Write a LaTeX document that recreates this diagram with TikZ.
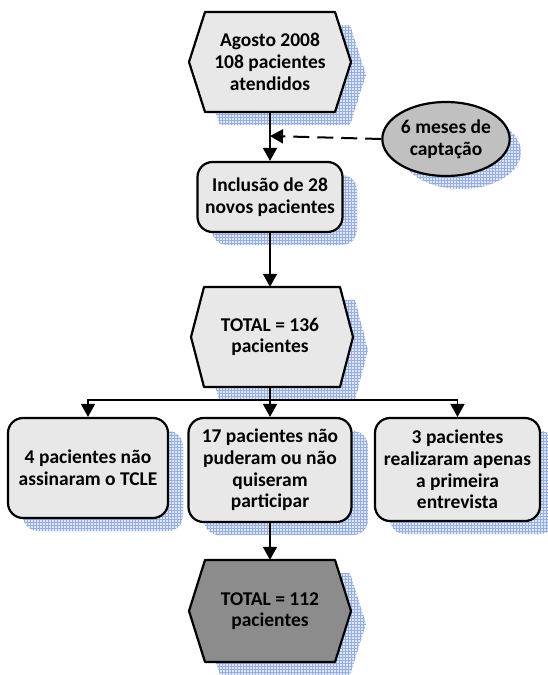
\documentclass[tikz,border=0pt]{standalone}
\usepackage{fontspec}
\setmainfont{Carlito}
\usetikzlibrary{arrows.meta,patterns,shapes.geometric}
\definecolor{boxfill}{RGB}{232,232,232}
\definecolor{ellfill}{RGB}{192,192,192}
\definecolor{darkfill}{RGB}{140,140,140}
\definecolor{shfill}{RGB}{222,230,246}
\definecolor{shline}{RGB}{150,175,222}
\newcommand\hexat[6]{% style, cx, cy, half width, half height, inset
  \path[#1] (#2-#4,#3) -- (#2-#4+#6,#3-#5) -- (#2+#4-#6,#3-#5) -- (#2+#4,#3)
    -- (#2+#4-#6,#3+#5) -- (#2-#4+#6,#3+#5) -- cycle;}
\begin{document}
\begin{tikzpicture}[x=1pt,y=-1pt,
  shad/.style={draw=none, fill=shfill, postaction={pattern=grid, pattern color=shline}},
  shape border/.style={draw=black, line width=2.2pt, line join=round},
  txt/.style={align=center, inner sep=0pt, font=\bfseries\fontsize{19.5}{21.7}\selectfont},
  rbox/.style={txt, shape border, fill=boxfill, rounded corners=15pt},
  ell/.style={txt, ellipse, shape border, fill=ellfill},
  conn/.style={line width=1.8pt},
  arr/.style={conn, -{Triangle[length=13pt,width=14pt]}},
  dasharr/.style={arr, line width=2pt, dash pattern=on 16pt off 8pt}
]
\useasboundingbox (0,0) rectangle (547,675);
% shadows
\hexat{shad}{285}{75}{81}{50}{16}
\path[shad] (461,152) ellipse [x radius=60, y radius=37];
\path[shad, rounded corners=15pt] (212,175) rectangle (357,245);
\hexat{shad}{287}{350}{81}{50}{13}
\path[shad, rounded corners=15pt] (23,431) rectangle (183,531);
\path[shad, rounded corners=15pt] (204,431) rectangle (368,535);
\path[shad, rounded corners=15pt] (390,431) rectangle (555,534);
\hexat{shad}{285}{624}{81}{51}{16}
% shapes
\hexat{shape border, fill=boxfill}{270}{62}{81}{50}{16}
\hexat{shape border, fill=boxfill}{272}{337}{81}{50}{13}
\hexat{shape border, fill=darkfill}{270}{611}{81}{51}{16}
% nodes
\node[txt, minimum width=162, minimum height=100] (h1) at (270,62) {Agosto 2008\\108 pacientes\\atendidos};
\node[ell, minimum width=121, minimum height=74] (cap) at (446,139) {6 meses de\\captação};
\node[rbox, minimum width=145, minimum height=70] (inc) at (270,197) {Inclusão de 28\\novos pacientes};
\node[txt, minimum width=162, minimum height=100] (h2) at (270,337) {TOTAL = 136\\pacientes};
\node[rbox, minimum width=160, minimum height=100] (b1) at (88,468) {4 pacientes não\\assinaram o TCLE};
\node[rbox, minimum width=163, minimum height=104] (b2) at (270,470) {17 pacientes não\\puderam ou não\\quiseram\\participar};
\node[rbox, minimum width=165, minimum height=103] (b3) at (457.5,469.5) {3 pacientes\\realizaram apenas\\a primeira\\entrevista};
\node[txt, minimum width=162, minimum height=102] (h3) at (270,611) {TOTAL = 112\\pacientes};
\coordinate (hook) at (270,136);
\coordinate (split) at (270,400);
% connectors
\draw[arr] (h1.south) -- (inc.north);
\draw[dasharr] (cap.west) -- (hook);
\draw[arr] (inc.south) -- (h2.north);
\draw[conn] (h2.south) -- (split);
\draw[arr] (split) -- (b2.north);
\draw[arr] (split) -| (b1.north);
\draw[arr] (split) -| (b3.north);
\draw[arr] (b2.south) -- (h3.north);
\end{tikzpicture}
\end{document}
